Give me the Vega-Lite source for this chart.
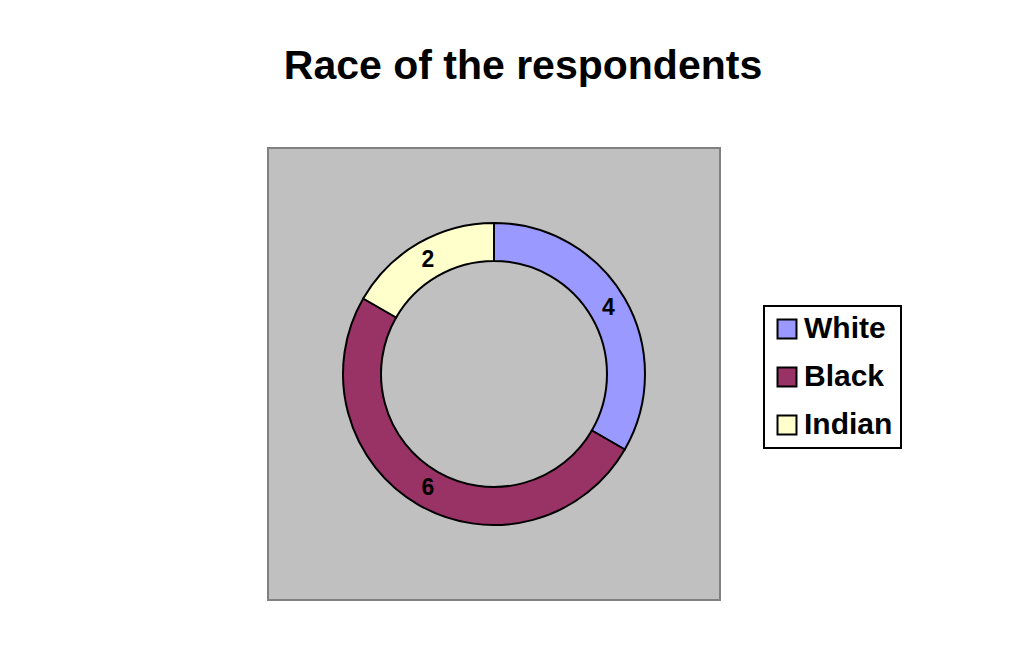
{
  "$schema": "https://vega.github.io/schema/vega-lite/v6.json",
  "autosize": "none",
  "width": 452,
  "height": 452,
  "padding": {"left": 268, "top": 148, "right": 306, "bottom": 47},
  "background": "white",
  "view": {"fill": "#C0C0C0", "stroke": "#808080", "strokeWidth": 2},
  "title": {
    "text": "Race of the respondents",
    "font": "Liberation Sans",
    "fontSize": 41,
    "fontWeight": "bold",
    "color": "black",
    "anchor": "middle",
    "dx": 29,
    "offset": 28,
    "baseline": "alphabetic"
  },
  "data": {
    "values": [
      {"race": "White", "count": 4, "idx": 1},
      {"race": "Black", "count": 6, "idx": 2},
      {"race": "Indian", "count": 2, "idx": 3}
    ]
  },
  "encoding": {
    "theta": {"field": "count", "type": "quantitative", "stack": true},
    "order": {"field": "idx", "type": "quantitative"}
  },
  "layer": [
    {
      "mark": {"type": "arc", "outerRadius": 151, "innerRadius": 113, "stroke": "black", "strokeWidth": 2},
      "encoding": {
        "color": {
          "field": "race",
          "type": "nominal",
          "scale": {"domain": ["White", "Black", "Indian"], "range": ["#9999FF", "#993366", "#FFFFCC"]},
          "legend": {
            "title": null,
            "orient": "none",
            "legendX": 496,
            "legendY": 158,
            "symbolType": "square",
            "symbolSize": 360,
            "symbolStrokeColor": "black",
            "symbolStrokeWidth": 2,
            "symbolOpacity": 1,
            "labelFont": "Liberation Sans",
            "labelFontSize": 30,
            "labelFontWeight": "bold",
            "labelColor": "black",
            "labelOffset": 2,
            "rowPadding": 18,
            "padding": 8,
            "strokeColor": "black",
            "fillColor": "white"
          }
        }
      }
    },
    {
      "mark": {"type": "text", "radius": 132, "font": "Liberation Sans", "fontSize": 23, "fontWeight": "bold", "fill": "black"},
      "encoding": {"text": {"field": "count", "type": "quantitative"}}
    }
  ],
  "config": {
    "legend": {"strokeWidth": 2}
  }
}
